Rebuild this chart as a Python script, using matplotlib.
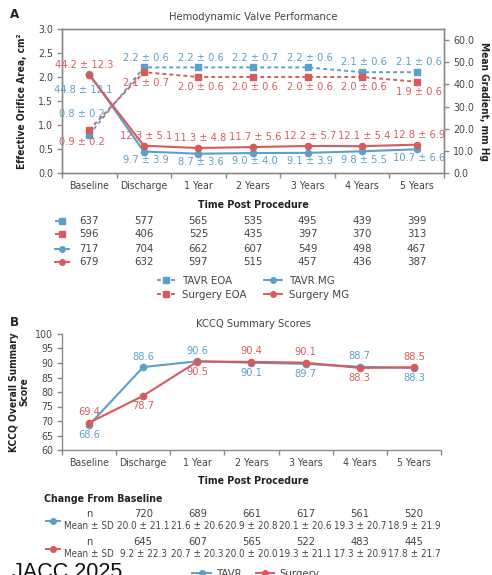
import os
import matplotlib
matplotlib.use('Agg')
from matplotlib import pyplot as plt
from matplotlib import font_manager as fm
from matplotlib.lines import Line2D
from matplotlib.transforms import blended_transform_factory

# --- data ---
cats = ['Baseline', 'Discharge', '1 Year', '2 Years', '3 Years', '4 Years', '5 Years']

tavr_eoa = [0.8, 2.2, 2.2, 2.2, 2.2, 2.1, 2.1]
tavr_eoa_sd = [0.2, 0.6, 0.6, 0.7, 0.6, 0.6, 0.6]
surg_eoa = [0.9, 2.1, 2.0, 2.0, 2.0, 2.0, 1.9]
surg_eoa_sd = [0.2, 0.7, 0.6, 0.6, 0.6, 0.6, 0.6]
tavr_mg = [44.8, 9.7, 8.7, 9.0, 9.1, 9.8, 10.7]
tavr_mg_sd = [12.1, 3.9, 3.6, 4.0, 3.9, 5.5, 6.6]
surg_mg = [44.2, 12.3, 11.3, 11.7, 12.2, 12.1, 12.8]
surg_mg_sd = [12.3, 5.1, 4.8, 5.6, 5.7, 5.4, 6.9]

n_tavr_eoa = [637, 577, 565, 535, 495, 439, 399]
n_surg_eoa = [596, 406, 525, 435, 397, 370, 313]
n_tavr_mg = [717, 704, 662, 607, 549, 498, 467]
n_surg_mg = [679, 632, 597, 515, 457, 436, 387]

tavr_kccq = [68.6, 88.6, 90.6, 90.1, 89.7, 88.7, 88.3]
surg_kccq = [69.4, 78.7, 90.5, 90.4, 90.1, 88.3, 88.5]
# which series gets its label above the point (True = TAVR above)
kccq_tavr_above = [False, True, True, False, False, True, False]

chg_tavr_n = [720, 689, 661, 617, 561, 520]
chg_tavr = ['20.0 ± 21.1', '21.6 ± 20.6', '20.9 ± 20.8', '20.1 ± 20.6', '19.3 ± 20.7', '18.9 ± 21.9']
chg_surg_n = [645, 607, 565, 522, 483, 445]
chg_surg = ['9.2 ± 22.3', '20.7 ± 20.3', '20.0 ± 20.0', '19.3 ± 21.1', '17.3 ± 20.9', '17.8 ± 21.7']

BLUE = '#5b9fcc'
RED = '#d65c5c'
GRAY = '#8a8a8a'
TXT = '#444444'
DARK = '#222222'

# look for a narrow font (the original uses a condensed face)
files = {os.path.basename(f.fname).lower(): f.fname for f in fm.fontManager.ttflist}
FONT_FILES = None
for reg, bold in [('LiberationSansNarrow-Regular.ttf', 'LiberationSansNarrow-Bold.ttf'),
                  ('NotoSans-Condensed.ttf', 'NotoSans-CondensedBold.ttf'),
                  ('DejaVuSansCondensed.ttf', 'DejaVuSansCondensed-Bold.ttf'),
                  ('RobotoCondensed-Regular.ttf', 'RobotoCondensed-Bold.ttf')]:
    if reg.lower() in files and bold.lower() in files:
        FONT_FILES = (files[reg.lower()], files[bold.lower()])
        break

SCALE = 1.0 if FONT_FILES else 0.8


def fp(size, bold=False):
    if FONT_FILES:
        return fm.FontProperties(fname=FONT_FILES[1 if bold else 0], size=size)
    return fm.FontProperties(family='Liberation Sans', weight='bold' if bold else 'normal',
                             size=size * SCALE)


W, H = 492, 575
fig = plt.figure(figsize=(W / 100, H / 100), dpi=100)


def fy(y):
    return 1 - y / H


def ticks_font(a):
    for t in a.get_xticklabels() + a.get_yticklabels():
        t.set_fontproperties(fp(7.6))
        t.set_color(TXT)


def style_x(ax):
    ax.set_xlim(-0.5, len(cats) - 0.5)
    ax.set_xticks(list(range(len(cats))))
    ax.set_xticklabels(cats)
    ax.tick_params(axis='x', length=0, pad=6)
    ax.set_xticks([i - 0.5 for i in range(len(cats) + 1)], minor=True)
    ax.tick_params(axis='x', which='minor', length=3.5, color=GRAY, width=1)


def lab(ax, x, y, s, c, dy, dx=0):
    ax.annotate(s, (x, y), xytext=(dx, dy), textcoords='offset points',
                ha='center', va='center', color=c, fontproperties=fp(7.9))


def ftext(x, y, s, size=7.5, bold=False, color=TXT, **kw):
    kw.setdefault('ha', 'center')
    kw.setdefault('va', 'center')
    fig.text(x, y, s, fontproperties=fp(size, bold), color=color, **kw)


# ---------------- Panel A ----------------
ax = fig.add_axes([62 / W, fy(173), 382 / W, 144 / H])
ax2 = ax.twinx()
x = list(range(len(cats)))

ax.plot(x, tavr_eoa, color=BLUE, ls=(0, (2, 1.6)), lw=1.4, marker='s', ms=5, zorder=3)
ax.plot(x, surg_eoa, color=RED, ls=(0, (2, 1.6)), lw=1.4, marker='s', ms=5, zorder=3)
ax2.plot(x, tavr_mg, color=BLUE, lw=1.5, marker='o', ms=4.5)
ax2.plot(x, surg_mg, color=RED, lw=1.5, marker='o', ms=4.5)

ax.set_ylim(0, 3.0)
ax.set_yticks([0, 0.5, 1.0, 1.5, 2.0, 2.5, 3.0])
ax.set_yticklabels(['%.1f' % v for v in ax.get_yticks()])
ax2.set_ylim(0, 65)
ax2.set_yticks([0, 10, 20, 30, 40, 50, 60])
ax2.set_yticklabels(['%.1f' % v for v in ax2.get_yticks()])
style_x(ax)
for a in (ax, ax2):
    a.tick_params(axis='y', length=3.5, color=GRAY, width=1, pad=3)
    ticks_font(a)
    for s in a.spines.values():
        s.set_color(GRAY)
        s.set_linewidth(1)

for i in x:
    if i == 0:
        lab(ax, i, tavr_eoa[i], '%.1f ± %.1f' % (tavr_eoa[i], tavr_eoa_sd[i]), BLUE, 15, -5)
        lab(ax, i, surg_eoa[i], '%.1f ± %.1f' % (surg_eoa[i], surg_eoa_sd[i]), RED, -9, -5)
        lab(ax2, i, surg_mg[i], '%.1f ± %.1f' % (surg_mg[i], surg_mg_sd[i]), RED, 7, -4)
        lab(ax2, i, tavr_mg[i], '%.1f ± %.1f' % (tavr_mg[i], tavr_mg_sd[i]), BLUE, -12, -4)
    else:
        lab(ax, i, tavr_eoa[i], '%.1f ± %.1f' % (tavr_eoa[i], tavr_eoa_sd[i]), BLUE, 7, 1.5)
        lab(ax, i, surg_eoa[i], '%.1f ± %.1f' % (surg_eoa[i], surg_eoa_sd[i]), RED, -7.5, 1.5)
        lab(ax2, i, surg_mg[i], '%.1f ± %.1f' % (surg_mg[i], surg_mg_sd[i]), RED, 7, 1.5)
        lab(ax2, i, tavr_mg[i], '%.1f ± %.1f' % (tavr_mg[i], tavr_mg_sd[i]), BLUE, -6, 1.5)

ftext(10 / W, fy(15), 'A', size=9.5, bold=True, color=DARK, ha='left')
ftext(253 / W, fy(17), 'Hemodynamic Valve Performance', size=8)
ftext(22 / W, fy(101), 'Effective Orifice Area, cm²', size=7.3, bold=True, color=DARK, rotation=90)
ftext(484 / W, fy(101), 'Mean Gradient, mm Hg', size=7.3, bold=True, color=DARK, rotation=-90)
ftext(253 / W, fy(205), 'Time Post Procedure', size=7.6, bold=True, color=DARK)

tr = blended_transform_factory(ax.transData, fig.transFigure)
rows = [(n_tavr_eoa, BLUE, 's', (0, (2, 1.6))), (n_surg_eoa, RED, 's', (0, (2, 1.6))),
        (n_tavr_mg, BLUE, 'o', '-'), (n_surg_mg, RED, 'o', '-')]
for (vals, c, m, ls), y in zip(rows, [221, 234, 249, 262]):
    fig.add_artist(Line2D([55 / W, 69 / W], [fy(y), fy(y)], color=c, ls=ls, lw=1.4))
    fig.add_artist(Line2D([62 / W], [fy(y)], color=c, marker=m, ms=4.5 if m == 's' else 4))
    for i, v in enumerate(vals):
        fig.text(i, fy(y), str(v), transform=tr, fontproperties=fp(8.2), color=TXT,
                 ha='center', va='center')

hA = [Line2D([], [], color=BLUE, ls=(0, (2, 1.6)), lw=1.4, marker='s', ms=4.5),
      Line2D([], [], color=RED, ls=(0, (2, 1.6)), lw=1.4, marker='s', ms=4.5),
      Line2D([], [], color=BLUE, lw=1.4, marker='o', ms=4),
      Line2D([], [], color=RED, lw=1.4, marker='o', ms=4)]
fig.legend(hA, ['TAVR EOA', 'Surgery EOA', 'TAVR MG', 'Surgery MG'], ncol=2,
           loc='center', bbox_to_anchor=(253 / W, fy(288)), frameon=False,
           prop=fp(8.2), handlelength=1.6, columnspacing=1.5, labelspacing=0.4,
           handletextpad=0.6, labelcolor=TXT)

# ---------------- Panel B ----------------
bx = fig.add_axes([62 / W, fy(450), 379 / W, 116 / H])
bx.plot(x, tavr_kccq, color=BLUE, lw=1.5, marker='o', ms=4.5)
bx.plot(x, surg_kccq, color=RED, lw=1.5, marker='o', ms=4.5)
bx.set_ylim(60, 100)
bx.set_yticks(list(range(60, 101, 5)))
bx.set_yticklabels([str(v) for v in range(60, 101, 5)])
bx.tick_params(axis='y', length=3.5, color=GRAY, width=1, pad=3)
style_x(bx)
ticks_font(bx)
bx.spines['top'].set_visible(False)
bx.spines['right'].set_visible(False)
for s in ('left', 'bottom'):
    bx.spines[s].set_color(GRAY)
    bx.spines[s].set_linewidth(1)

for i in x:
    up = 7.5
    if kccq_tavr_above[i]:
        lab(bx, i, tavr_kccq[i], '%.1f' % tavr_kccq[i], BLUE, up)
        lab(bx, i, surg_kccq[i], '%.1f' % surg_kccq[i], RED, -up)
    else:
        lab(bx, i, surg_kccq[i], '%.1f' % surg_kccq[i], RED, up)
        lab(bx, i, tavr_kccq[i], '%.1f' % tavr_kccq[i], BLUE, -up)

ftext(10 / W, fy(323), 'B', size=9.5, bold=True, color=DARK, ha='left')
ftext(253 / W, fy(324), 'KCCQ Summary Scores', size=8)
fig.text(19 / W, fy(392), 'KCCQ Overall Summary\nScore', fontproperties=fp(7.3, True),
         color=DARK, rotation=90, ha='center', va='center', linespacing=1.1)
ftext(253 / W, fy(481), 'Time Post Procedure', size=7.6, bold=True, color=DARK)
ftext(44 / W, fy(499), 'Change From Baseline', size=7.6, bold=True, color=DARK, ha='left')

trb = blended_transform_factory(bx.transData, fig.transFigure)
for ns, ms_, c, y in [(chg_tavr_n, chg_tavr, BLUE, 514), (chg_surg_n, chg_surg, RED, 542)]:
    fig.add_artist(Line2D([46 / W, 60 / W], [fy(y + 7), fy(y + 7)], color=c, lw=1.4))
    fig.add_artist(Line2D([53 / W], [fy(y + 7)], color=c, marker='o', ms=4))
    fig.text(0, fy(y), 'n', transform=trb, fontproperties=fp(8), color=TXT,
             ha='center', va='center')
    fig.text(0, fy(y + 12), 'Mean ± SD', transform=trb, fontproperties=fp(7.1), color=TXT,
             ha='center', va='center')
    for i in range(len(ns)):
        fig.text(i + 1, fy(y), str(ns[i]), transform=trb, fontproperties=fp(8), color=TXT,
                 ha='center', va='center')
        fig.text(i + 1, fy(y + 12), ms_[i], transform=trb, fontproperties=fp(7.1), color=TXT,
                 ha='center', va='center')

hB = [Line2D([], [], color=BLUE, lw=1.4, marker='o', ms=4),
      Line2D([], [], color=RED, lw=1.4, marker='o', ms=4)]
fig.legend(hB, ['TAVR', 'Surgery'], ncol=2, loc='center',
           bbox_to_anchor=(256 / W, fy(574)), frameon=False, prop=fp(8.2),
           handlelength=1.6, columnspacing=1.2, handletextpad=0.5, labelcolor=TXT)

fig.text(12 / W, fy(562), 'JACC 2025',
         fontproperties=fm.FontProperties(family='Liberation Sans', size=15.5),
         color='#111111', ha='left', va='top')

fig.savefig('out.png', dpi=100)
